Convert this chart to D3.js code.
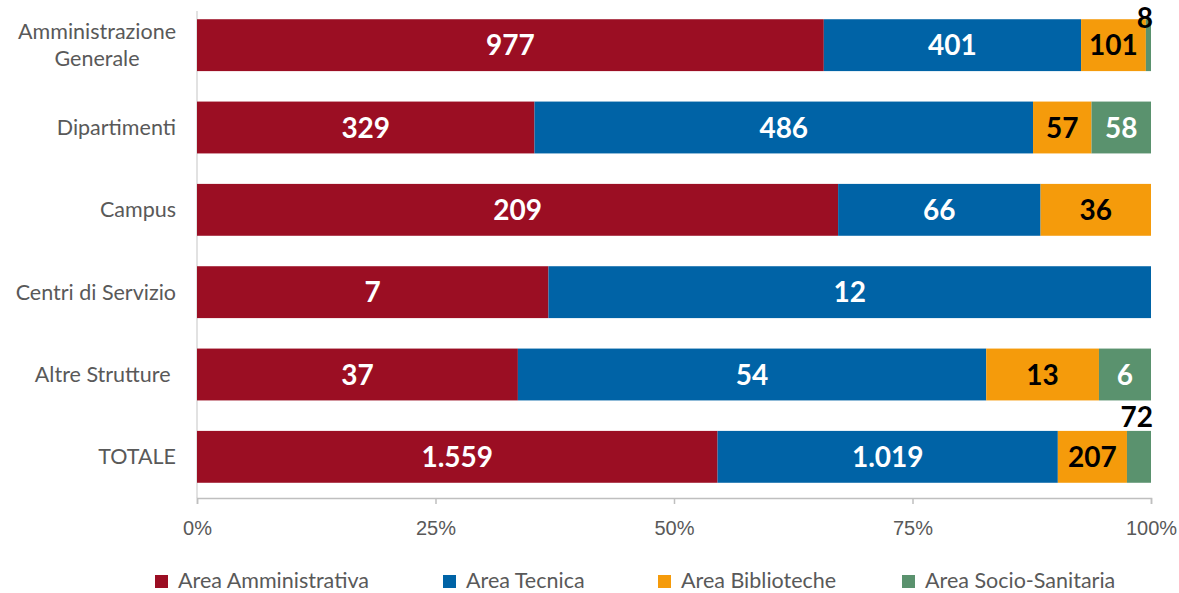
<!DOCTYPE html>
<html><head><meta charset="utf-8">
<script src="https://cdn.jsdelivr.net/npm/d3@7"></script>
<style>
html,body{margin:0;padding:0;background:#fff;}
svg{display:block;font-family:Lato, "Noto Sans", sans-serif;}
</style></head>
<body>
<svg id="chart" width="1179" height="593"></svg>
<script>
const categories = ["Amministrazione\nGenerale","Dipartimenti","Campus","Centri di Servizio","Altre Strutture ","TOTALE"];
const seriesNames = ["Area Amministrativa","Area Tecnica","Area Biblioteche","Area Socio-Sanitaria"];
const amministrativa = [977, 329, 209, 7, 37, 1559];
const tecnica = [401, 486, 66, 12, 54, 1019];
const biblioteche = [101, 57, 36, 0, 13, 207];
const socioSanitaria = [8, 58, 0, 0, 6, 72];
const tickLabels = ["0%","25%","50%","75%","100%"];
const tickValues = [0, 0.25, 0.5, 0.75, 1];

const colors = ["#9B0E23","#0063A6","#F59B0B","#5A926E"];
const labelColors = ["#fff","#fff","#000","#fff"];
const series = [amministrativa, tecnica, biblioteche, socioSanitaria];
const fmt = v => d3.format(",")(v).replace(/,/g, ".");

const svg = d3.select("#chart");
const x = d3.scaleLinear().domain([0,1]).range([197,1151]);
const y = d3.scaleBand().domain(categories).range([4,498]).paddingInner(0.37).paddingOuter(0.185);

// axes lines
svg.append("line").attr("x1",197).attr("x2",197).attr("y1",11).attr("y2",498)
  .attr("stroke","#d9d9d9").attr("stroke-width",1.5);
const xAxis = d3.axisBottom(x).tickValues(tickValues).tickSize(6).tickFormat((d,i)=>tickLabels[i]);
const gx = svg.append("g").attr("transform","translate(0,498)").call(xAxis);
gx.select(".domain").attr("stroke","#bfbfbf").attr("stroke-width",1.5);
gx.selectAll(".tick line").attr("stroke","#bfbfbf").attr("stroke-width",1.5);
gx.selectAll(".tick text").attr("fill","#595959").attr("font-size","20px").attr("dy","0").attr("y",37);

// stacked data
const rows = categories.map((c,i)=>{
  const vals = series.map(s=>s[i]);
  const tot = d3.sum(vals);
  let acc = 0;
  return vals.map((v,k)=>{ const seg={cat:c,k,v,x0:acc/tot,x1:(acc+v)/tot}; acc+=v; return seg; });
});
const segs = rows.flat().filter(d=>d.v>0);

const gBars = svg.append("g");
gBars.selectAll("rect").data(segs).join("rect")
  .attr("x",d=>x(d.x0)).attr("width",d=>x(d.x1)-x(d.x0))
  .attr("y",d=>y(d.cat)).attr("height",y.bandwidth())
  .attr("fill",d=>colors[d.k]);

const gLab = svg.append("g");
segs.forEach(d=>{
  const t = gLab.append("text").text(fmt(d.v))
    .attr("font-size","28px").attr("font-weight","700")
    .attr("text-anchor","middle");
  const w = t.node().getComputedTextLength();
  const segW = x(d.x1)-x(d.x0);
  let cx = (x(d.x0)+x(d.x1))/2;
  if (w + 4 < segW) {
    t.attr("x",cx).attr("y",y(d.cat)+y.bandwidth()/2).attr("dy","0.36em").attr("fill",labelColors[d.k]);
  } else {
    cx = Math.min(cx, 1153 - w/2);
    t.attr("x",cx).attr("y",Math.max(y(d.cat)-4, 28)).attr("fill","#000");
  }
});

// category labels
const gCat = svg.append("g");
categories.forEach(c=>{
  const lines = c.split("\n");
  const t = gCat.append("text").attr("fill","#595959").attr("font-size","21.5px")
    .style("white-space","pre").attr("text-anchor","middle");
  const cy = y(c)+y.bandwidth()/2;
  const lh = 27;
  lines.forEach((l,i)=>{
    t.append("tspan").text(l).attr("x",0)
      .attr("y", cy + (i - (lines.length-1)/2)*lh).attr("dy","0.35em");
  });
  const w = d3.max(t.selectAll("tspan").nodes(), n=>n.getComputedTextLength());
  t.selectAll("tspan").attr("x", 176 - w/2);
});

// legend
const legX = [155, 443, 658, 902];
const gLeg = svg.append("g");
seriesNames.forEach((n,i)=>{
  gLeg.append("rect").attr("x",legX[i]).attr("y",575).attr("width",13).attr("height",13).attr("fill",colors[i]);
  gLeg.append("text").attr("x",legX[i]+23).attr("y",588).text(n)
    .attr("fill","#595959").attr("font-size","21.5px");
});
</script>
</body></html>
